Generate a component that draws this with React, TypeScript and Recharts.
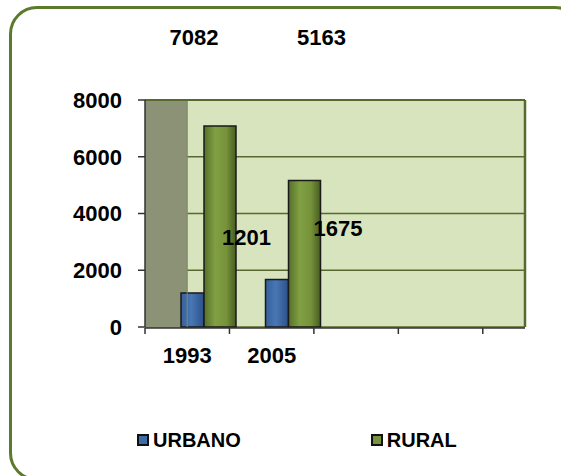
import { BarChart, Bar, XAxis, YAxis, CartesianGrid, Legend, LabelList, ReferenceArea, ReferenceLine } from 'recharts'

const categories = ['1993', '2005', '', '']
const urbano = [1201, 1675, null, null]
const rural = [7082, 5163, null, null]
const yTicks = [0, 2000, 4000, 6000, 8000]
const frameTicks = [0, 1, 2, 3, 4]

const data = categories.map((year, i) => ({
  year,
  slot: i,
  urbano: urbano[i],
  rural: rural[i],
}))

const FONT = '"Liberation Sans", Arial, sans-serif'
const GRID = '#56692f'

// Excel placed the value labels away from the bars; keep those spots
const ruralShift = [[-26, -259], [17, -246]]
const urbanShift = [[54, -55], [61, -51]]

function makeLabel(shift: number[][], fromTop: boolean) {
  return (props: any) => {
    const { x, y, width, value, index } = props
    if (value == null) return null
    const [dx, dy] = shift[index] || [0, 0]
    return (
      <text
        x={Number(x) + Number(width) / 2 + dx}
        y={fromTop ? 37 : Number(y) + dy}
        textAnchor="middle"
        dominantBaseline="central"
        fontFamily={FONT}
        fontWeight="bold"
        fontSize={22}
        fill="#000"
      >
        {value}
      </text>
    )
  }
}

const legendItems = [
  { name: 'URBANO', color: '#3f6ba6' },
  { name: 'RURAL', color: '#77933c' },
]

function LegendBox() {
  return (
    <div style={{ display: 'flex', paddingLeft: 137, fontFamily: FONT, fontWeight: 'bold', fontSize: 20, lineHeight: '20px' }}>
      {legendItems.map((item, i) => (
        <div key={item.name} style={{ display: 'flex', alignItems: 'center', marginRight: i === 0 ? 130 : 0 }}>
          <span style={{ width: 8, height: 8, border: '2px solid #111', background: item.color, marginRight: 4 }} />
          <span>{item.name}</span>
        </div>
      ))}
    </div>
  )
}

export default function App() {
  return (
    <div style={{ position: 'relative', width: 561, height: 476, overflow: 'hidden', background: '#fff' }}>
      <style>{'body{margin:0}'}</style>
      <div
        style={{
          position: 'absolute',
          left: 9,
          top: 6,
          width: 574,
          height: 475,
          boxSizing: 'border-box',
          border: '3px solid #5b7a2b',
          borderRadius: 28,
        }}
      />
      <div style={{ position: 'absolute', left: 0, top: 0 }}>
        <BarChart
          width={561}
          height={476}
          data={data}
          margin={{ top: 100, right: 36, bottom: 147, left: 0 }}
          barGap={0}
        >
          <defs>
            <linearGradient id="gRural" x1="0" y1="0" x2="1" y2="0">
              <stop offset="0%" stopColor="#56702a" />
              <stop offset="35%" stopColor="#80a042" />
              <stop offset="70%" stopColor="#76923b" />
              <stop offset="100%" stopColor="#465c20" />
            </linearGradient>
            <linearGradient id="gUrb" x1="0" y1="0" x2="1" y2="0">
              <stop offset="0%" stopColor="#36609a" />
              <stop offset="45%" stopColor="#4877b5" />
              <stop offset="100%" stopColor="#2c5088" />
            </linearGradient>
          </defs>
          <CartesianGrid fill="#d7e4bd" stroke={GRID} strokeWidth={1.5} vertical={false} yAxisId="y" xAxisId="frame" />
          <XAxis
            xAxisId="frame"
            dataKey="slot"
            type="number"
            domain={[0, 4.5]}
            allowDataOverflow
            ticks={frameTicks}
            tickFormatter={() => ''}
            height={1}
            tickSize={6}
            axisLine={{ stroke: '#333', strokeWidth: 1.5 }}
            tickLine={{ stroke: '#333', strokeWidth: 1.5 }}
          />
          <XAxis
            xAxisId="labels"
            dataKey="year"
            height={1}
            padding={{ left: 0, right: 42 }}
            axisLine={false}
            tickLine={false}
            tickSize={6}
            tickMargin={12}
            tick={{ fontFamily: FONT, fontWeight: 'bold', fontSize: 22, fill: '#000' }}
            interval={0}
          />
          <XAxis xAxisId="bars" dataKey="year" hide height={1} padding={{ left: 21, right: 21 }} />
          <YAxis
            yAxisId="y"
            domain={[0, 8000]}
            ticks={yTicks}
            width={145}
            tickSize={7}
            tickMargin={16}
            axisLine={{ stroke: '#333', strokeWidth: 1.5 }}
            tickLine={{ stroke: '#333', strokeWidth: 1.5 }}
            tick={{ fontFamily: FONT, fontWeight: 'bold', fontSize: 22, fill: '#000' }}
          />
          <ReferenceArea xAxisId="frame" yAxisId="y" x1={0} x2={0.5} y1={0} y2={8000} fill="#8b9276" fillOpacity={1} stroke="none" />
          <ReferenceLine xAxisId="frame" yAxisId="y" x={0.5} stroke="#7d8a60" strokeWidth={1} />
          <ReferenceLine xAxisId="frame" yAxisId="y" x={4.5} stroke={GRID} strokeWidth={2.5} />
          <ReferenceLine xAxisId="frame" yAxisId="y" y={8000} stroke={GRID} strokeWidth={2} />
          <Legend verticalAlign="middle" wrapperStyle={{ top: 430, left: 0, width: 561 }} content={() => <LegendBox />} />
          <Bar xAxisId="bars" yAxisId="y" dataKey="urbano" name="URBANO" barSize={23} fill="url(#gUrb)" stroke="#1a1a1a" strokeWidth={1.5} isAnimationActive={false}>
            <LabelList dataKey="urbano" content={makeLabel(urbanShift, false)} />
          </Bar>
          <Bar xAxisId="bars" yAxisId="y" dataKey="rural" name="RURAL" barSize={32} fill="url(#gRural)" stroke="#1a1a1a" strokeWidth={1.5} isAnimationActive={false}>
            <LabelList dataKey="rural" content={makeLabel(ruralShift, true)} />
          </Bar>
        </BarChart>
      </div>
    </div>
  )
}
